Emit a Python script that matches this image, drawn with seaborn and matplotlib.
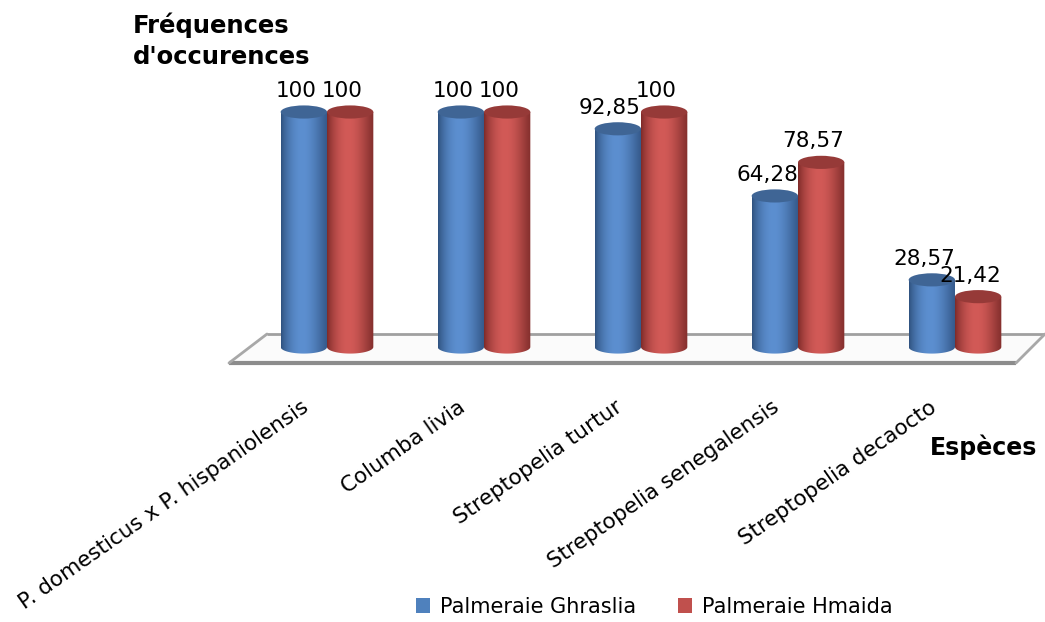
import numpy as np
import pandas as pd
import matplotlib
matplotlib.use("Agg")
import matplotlib.pyplot as plt
import seaborn as sns
from matplotlib.patches import Ellipse, Polygon, Patch, PathPatch
from matplotlib.path import Path
from matplotlib.colors import to_rgb

# --- data -------------------------------------------------------------
species = [
    "P. domesticus x P. hispaniolensis",
    "Columba livia",
    "Streptopelia turtur",
    "Streptopelia senegalensis",
    "Streptopelia decaocto",
]
ghraslia = [100, 100, 92.85, 64.28, 28.57]
hmaida = [100, 100, 100, 78.57, 21.42]
site_names = ["Palmeraie Ghraslia", "Palmeraie Hmaida"]
y_title = "Fréquences\nd'occurences"
x_title = "Espèces"

df = pd.DataFrame({
    "Espèce": species * 2,
    "Fréquence": ghraslia + hmaida,
    "Site": [site_names[0]] * len(species) + [site_names[1]] * len(species),
})

# --- style ------------------------------------------------------------
base = {site_names[0]: "#4F81BD", site_names[1]: "#C0504D"}
# left edge, highlight, right edge, cap colour for each cylinder
shades = {
    site_names[0]: ("#2f527f", "#5c8fd0", "#35598a", "#3f6595"),
    site_names[1]: ("#7e2b29", "#d25a57", "#85302e", "#963a38"),
}

W, H = 1045, 622
sns.set_theme(style="white")
plt.rcParams["font.family"] = ["DejaVu Sans"]
plt.rcParams["text.color"] = "black"

fig = plt.figure(figsize=(W / 100, H / 100), dpi=100)
ax = fig.add_axes([0, 0, 1, 1])

sns.barplot(data=df, x="Espèce", y="Fréquence", hue="Site", palette=base,
            width=0.59, errorbar=None, legend=False, ax=ax)

# pixel layout: category i sits at x = 327 + 157 i, value 0 at y = 347,
# 2.35 px per percent
ax.set_xlim(-327 / 157, (W - 327) / 157)
ax.set_ylim((347 - H) / 2.35, 347 / 2.35)
ax.axis("off")

def ypx(px):
    return (347 - px) / 2.35

def xpx(px):
    return (px - 327) / 157

# floor plane of the pseudo-3D chart
fl, bl, br, fr = xpx(229), xpx(267), xpx(1045), xpx(1016)
yf, yb = ypx(363), ypx(334)
ax.add_patch(Polygon([(fl, yf), (bl, yb), (br, yb), (fr, yf)], closed=True,
                     fc="#fbfbfb", ec="none", zorder=1))
ax.plot([bl, br], [yb, yb], color="#a0a0a0", lw=2.0, zorder=1.5,
        solid_capstyle="butt")
ax.plot([fl, fr], [yf, yf], color="#8c8c8c", lw=3.0, zorder=1.5,
        solid_capstyle="butt")
ax.plot([fl, bl], [yf, yb], color="#a8a8a8", lw=2.0, zorder=1.5)
ax.plot([fr, br], [yf, yb], color="#a8a8a8", lw=2.0, zorder=1.5)

# turn flat bars into shaded cylinders
ell_h = 5.6
n = 64
t = np.linspace(0, 1, n)
for k_series, (cont, name) in enumerate(zip(ax.containers, site_names)):
    left, hi, right, cap = [np.array(to_rgb(c)) for c in shades[name]]
    prof = np.empty((n, 3))
    for j, tt in enumerate(t):
        if tt < 0.45:
            f = np.sin(tt / 0.45 * np.pi / 2) ** 0.8
            prof[j] = left + (hi - left) * f
        else:
            f = np.cos((tt - 0.45) / 0.55 * np.pi / 2) ** 1.2
            prof[j] = right + (hi - right) * f
    img = prof[np.newaxis, :, :]
    for i, p in enumerate(cont.patches):
        x0, w, h = p.get_x(), p.get_width(), p.get_height()
        xc = x0 + w / 2
        p.set_visible(False)
        z = 3 + i * 0.1 + k_series * 0.05
        ang = np.linspace(np.pi, 2 * np.pi, 50)
        verts = [(x0, h), (x0, 0)]
        verts += list(zip(xc + w / 2 * np.cos(ang), ell_h / 2 * np.sin(ang)))
        verts += [(x0 + w, h), (x0, h)]
        body = PathPatch(Path(verts, closed=True), fc="none", ec="none",
                         transform=ax.transData, zorder=z)
        ax.add_patch(body)
        im = ax.imshow(img, extent=[x0, x0 + w, -ell_h / 2, h], aspect="auto",
                       interpolation="bilinear", zorder=z)
        im.set_clip_path(body)
        ax.add_patch(Ellipse((xc, h), w, ell_h, fc=cap, ec="none",
                             zorder=z + 0.01))
        label = f"{h:g}".replace(".", ",")
        ax.text(xc - 0.05, h + 9.0, label, ha="center", va="center",
                fontsize=15.5, color="black", zorder=10)

ax.set_xlim(-327 / 157, (W - 327) / 157)
ax.set_ylim((347 - H) / 2.35, 347 / 2.35)

# category labels, rotated below the floor
for i, name in enumerate(species):
    ax.text(i - 0.17, ypx(397), name, rotation=35, rotation_mode="anchor",
            ha="right", va="top", fontsize=15.5, color="black")

# axis titles
fig.text(133 / W, 1 - 12 / H, y_title, ha="left", va="top",
         fontsize=17.5, fontweight="bold", linespacing=1.4, color="black")
fig.text(1037 / W, 1 - 455 / H, x_title, ha="right", va="baseline",
         fontsize=17, fontweight="bold", color="black")

handles = [Patch(fc=base[s], ec="none") for s in site_names]
leg = fig.legend(handles, site_names, loc="center", ncol=2, frameon=False,
                 bbox_to_anchor=(654 / W, 1 - 607 / H), fontsize=15,
                 handlelength=0.7, handleheight=0.7, handletextpad=0.45,
                 columnspacing=2.0)
for txt in leg.get_texts():
    txt.set_color("black")

fig.savefig("out.png", dpi=100, facecolor="white")
